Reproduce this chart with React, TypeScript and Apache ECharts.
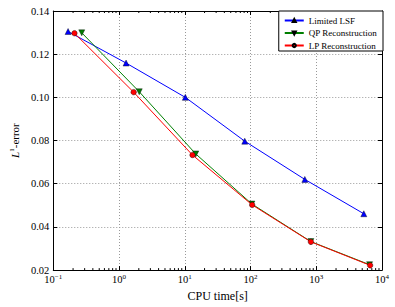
import React, { useEffect, useRef } from "react";
import * as echarts from "echarts";

const seriesNames = ["Limited LSF", "QP Reconstruction", "LP Reconstruction"];
const lsfX = [0.168, 1.28, 10.2, 81.8, 670, 5290];
const lsfY = [0.1305, 0.1159, 0.1, 0.0797, 0.062, 0.0461];
const qpX = [0.271, 2.03, 14.7, 105, 828, 6470];
const qpY = [0.1299, 0.1026, 0.0738, 0.0506, 0.0332, 0.0225];
const lpX = [0.21, 1.67, 13.1, 106, 828, 6600];
const lpY = [0.1297, 0.1024, 0.0733, 0.0502, 0.0331, 0.0222];
const decades = [-1, 0, 1, 2, 3];
const minorMultipliers = [2, 3, 4, 5, 6, 7, 8, 9];
const yTicks = [0.02, 0.04, 0.06, 0.08, 0.1, 0.12, 0.14];

const FONT = "'Liberation Serif', serif";

const zip = (xs: number[], ys: number[]) => xs.map((x, i) => [x, ys[i]]);

export default function App() {
  const ref = useRef<HTMLDivElement>(null);
  useEffect(() => {
    if (!ref.current) return;
    const chart = echarts.init(ref.current, undefined, { renderer: "svg" });
    const minorVals: number[][] = [];
    decades.forEach((d) =>
      minorMultipliers.forEach((m) => minorVals.push([m * Math.pow(10, d), 0]))
    );
    const yMin = yTicks[0];
    const yMax = yTicks[yTicks.length - 1];
    const tickCommon = {
      show: true,
      inside: true,
      length: 4,
      lineStyle: { color: "#000", width: 1 },
    };
    const xBase = {
      type: "log" as const,
      logBase: 10,
      min: 0.1,
      max: 10000,
      axisLine: { show: true, lineStyle: { color: "#000", width: 1 } },
      axisTick: tickCommon,
    };
    const yBase = {
      type: "value" as const,
      min: yMin,
      max: yMax,
      interval: 0.02,
      axisLine: { show: true, lineStyle: { color: "#000", width: 1 } },
      axisTick: tickCommon,
    };
    chart.setOption({
      animation: false,
      backgroundColor: "#fff",
      grid: { left: 41, right: 13, top: 11, bottom: 33, containLabel: false },
      legend: {
        data: seriesNames,
        orient: "vertical",
        right: 12,
        top: 11,
        borderColor: "#000",
        borderWidth: 1,
        borderRadius: 0,
        backgroundColor: "#fff",
        padding: [5, 6, 1, 5],
        itemWidth: 19,
        itemHeight: 4,
        itemGap: 3.5,
        textStyle: { fontFamily: FONT, fontSize: 9, color: "#000", lineHeight: 9 },
      },
      xAxis: [
        {
          ...xBase,
          position: "bottom",
          name: "CPU time[s]",
          nameLocation: "middle",
          nameGap: 18,
          nameTextStyle: { fontFamily: FONT, fontSize: 12, color: "#000" },
          axisLabel: {
            margin: 3,
            formatter: (v: number) => {
              const e = Math.round(Math.log10(v));
              return `{b|10}{s|${e < 0 ? "\u2212" : ""}${Math.abs(e)}}`;
            },
            rich: {
              b: { fontFamily: FONT, fontSize: 10.5, color: "#000", lineHeight: 13 },
              s: { fontFamily: FONT, fontSize: 7, color: "#000", verticalAlign: "top", lineHeight: 8 },
            },
          },
          splitLine: { show: true, lineStyle: { color: "#999", type: [1, 2], width: 1 } },
        },
        {
          ...xBase,
          position: "top",
          axisLabel: { show: false },
          splitLine: { show: false },
        },
      ],
      yAxis: [
        {
          ...yBase,
          position: "left",
          name: "{i|L}{s|1}{n|-error}",
          nameLocation: "middle",
          nameRotate: 90,
          nameGap: 27,
          nameTextStyle: {
            rich: {
              i: { fontFamily: FONT, fontStyle: "italic", fontSize: 11, color: "#000", lineHeight: 13 },
              s: { fontFamily: FONT, fontSize: 7, color: "#000", verticalAlign: "top", lineHeight: 8 },
              n: { fontFamily: FONT, fontSize: 11, color: "#000", lineHeight: 13 },
            },
          },
          axisLabel: {
            margin: 4,
            fontFamily: FONT,
            fontSize: 10.5,
            color: "#000",
            formatter: (v: number) => v.toFixed(2),
          },
          splitLine: { show: true, lineStyle: { color: "#999", type: [1, 2], width: 1 } },
        },
        {
          ...yBase,
          position: "right",
          axisLabel: { show: false },
          splitLine: { show: false },
        },
      ],
      series: [
        {
          name: seriesNames[0],
          type: "line",
          data: zip(lsfX, lsfY),
          symbol: "triangle",
          symbolSize: 6,
          color: "#0000ff",
          lineStyle: { color: "#0000ff", width: 1 },
          itemStyle: { color: "#0000ff", borderColor: "#000", borderWidth: 0.4 },
          z: 3,
        },
        {
          name: seriesNames[1],
          type: "line",
          data: zip(qpX, qpY),
          symbol: "triangle",
          symbolRotate: 180,
          symbolSize: 6,
          color: "#007f00",
          lineStyle: { color: "#007f00", width: 1 },
          itemStyle: { color: "#007f00", borderColor: "#000", borderWidth: 0.4 },
          z: 4,
        },
        {
          name: seriesNames[2],
          type: "line",
          data: zip(lpX, lpY),
          symbol: "circle",
          symbolSize: 5.5,
          color: "#ff0000",
          lineStyle: { color: "#ff0000", width: 1 },
          itemStyle: { color: "#ff0000", borderColor: "#000", borderWidth: 0.4 },
          z: 5,
        },
        {
          name: "minor",
          type: "custom",
          silent: true,
          data: minorVals,
          renderItem: (params: any, api: any) => {
            const v = api.value(0);
            const b = api.coord([v, yMin]);
            const t = api.coord([v, yMax]);
            return {
              type: "group",
              children: [
                { type: "line", shape: { x1: b[0], y1: b[1], x2: b[0], y2: b[1] - 2 }, style: { stroke: "#000", lineWidth: 1 } },
                { type: "line", shape: { x1: t[0], y1: t[1], x2: t[0], y2: t[1] + 2 }, style: { stroke: "#000", lineWidth: 1 } },
              ],
            };
          },
          z: 2,
        },
      ],
    });
    return () => chart.dispose();
  }, []);
  return (
    <div
      ref={ref}
      style={{ position: "fixed", left: 0, top: 0, width: 395, height: 307 }}
    />
  );
}
